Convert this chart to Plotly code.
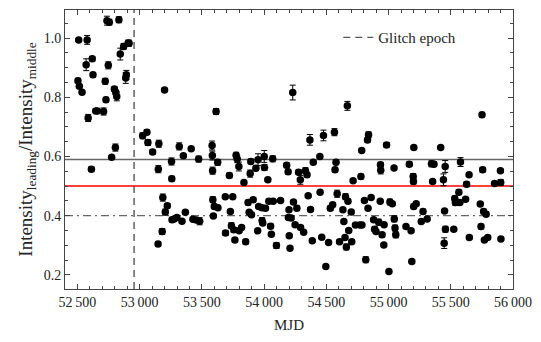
import plotly.graph_objects as go

# ---------------- data ----------------
mjd = [52504, 52510, 52515, 52537, 52570, 52578, 52586, 52612, 52619, 52625,
       52647, 52660, 52710, 52723, 52729, 52737, 52748, 52756, 52775, 52797,
       52805, 52808, 52816, 52833, 52844, 52871, 52888, 52893, 52907, 52915,
       53024, 53058, 53066, 53104, 53148, 53150, 53154, 53181, 53186, 53200,
       53206, 53222, 53256, 53258, 53260, 53277, 53299, 53318, 53340, 53351,
       53367, 53414, 53428, 53455, 53474, 53482, 53582, 53584, 53586, 53588,
       53592, 53600, 53614, 53627, 53629, 53688, 53690, 53721, 53729, 53737,
       53748, 53756, 53765, 53775, 53784, 53797, 53799, 53819, 53838, 53852,
       53871, 53880, 53888, 53893, 53899, 53912, 53934, 53948, 53951, 53956,
       53982, 53984, 53989, 54001, 54003, 54011, 54030, 54038, 54052, 54058,
       54069, 54073, 54099, 54132, 54181, 54193, 54195, 54200, 54202, 54208,
       54217, 54230, 54236, 54249, 54263, 54277, 54291, 54293, 54318, 54332,
       54345, 54354, 54368, 54373, 54387, 54395, 54448, 54450, 54463, 54477,
       54496, 54518, 54532, 54551, 54565, 54570, 54578, 54587, 54606, 54633,
       54641, 54650, 54654, 54661, 54669, 54674, 54680, 54700, 54704, 54715,
       54734, 54770, 54778, 54784, 54786, 54806, 54817, 54831, 54835, 54839,
       54860, 54880, 54888, 54899, 54921, 54933, 54935, 54937, 54948, 54962,
       54964, 54984, 55003, 55011, 55030, 55044, 55046, 55052, 55058, 55140,
       55167, 55181, 55187, 55198, 55200, 55202, 55203, 55222, 55263, 55277,
       55310, 55345, 55354, 55365, 55419, 55441, 55447, 55450, 55455, 55457,
       55524, 55532, 55537, 55565, 55573, 55578, 55619, 55627, 55647, 55649,
       55737, 55743, 55751, 55756, 55764, 55770, 55784, 55797, 55852, 55899,
       55901, 55903]

ratio = [0.856, 0.994, 0.837, 0.817, 0.910, 0.994, 0.730, 0.557, 0.930, 0.876,
         0.754, 0.754, 0.752, 0.854, 0.792, 1.059, 0.908, 1.054, 0.597, 0.828,
         0.630, 0.816, 0.803, 1.062, 0.946, 0.972, 0.865, 0.876, 0.983, 0.983,
         0.670, 0.682, 0.647, 0.615, 0.304, 0.557, 0.643, 0.346, 0.461, 0.825,
         0.412, 0.433, 0.583, 0.525, 0.386, 0.389, 0.394, 0.634, 0.381, 0.602,
         0.411, 0.626, 0.388, 0.385, 0.591, 0.381, 0.637, 0.603, 0.552, 0.454,
         0.399, 0.431, 0.752, 0.580, 0.427, 0.464, 0.341, 0.536, 0.414, 0.366,
         0.464, 0.352, 0.318, 0.604, 0.591, 0.566, 0.349, 0.360, 0.512, 0.312,
         0.444, 0.411, 0.542, 0.583, 0.403, 0.454, 0.560, 0.349, 0.589, 0.431,
         0.427, 0.383, 0.375, 0.600, 0.563, 0.425, 0.521, 0.449, 0.364, 0.337,
         0.592, 0.449, 0.299, 0.451, 0.570, 0.548, 0.394, 0.420, 0.332, 0.290,
         0.392, 0.816, 0.446, 0.369, 0.425, 0.547, 0.521, 0.360, 0.344, 0.552,
         0.538, 0.467, 0.656, 0.421, 0.315, 0.580, 0.600, 0.479, 0.327, 0.671,
         0.228, 0.309, 0.425, 0.437, 0.682, 0.555, 0.580, 0.474, 0.312, 0.420,
         0.380, 0.326, 0.464, 0.294, 0.771, 0.449, 0.350, 0.412, 0.312, 0.518,
         0.368, 0.368, 0.532, 0.620, 0.368, 0.451, 0.251, 0.656, 0.425, 0.673,
         0.461, 0.386, 0.354, 0.346, 0.378, 0.449, 0.572, 0.553, 0.335, 0.301,
         0.369, 0.639, 0.211, 0.446, 0.440, 0.561, 0.389, 0.358, 0.335, 0.363,
         0.574, 0.349, 0.245, 0.532, 0.515, 0.431, 0.630, 0.440, 0.380, 0.414,
         0.389, 0.575, 0.515, 0.574, 0.630, 0.521, 0.307, 0.416, 0.566, 0.354,
         0.354, 0.458, 0.444, 0.479, 0.444, 0.581, 0.455, 0.506, 0.538, 0.326,
         0.439, 0.363, 0.741, 0.555, 0.414, 0.318, 0.405, 0.326, 0.509, 0.552,
         0.512, 0.321]

err = [0.008, 0.005, 0.006, 0.006, 0.020, 0.015, 0.012, 0.008, 0.008, 0.008,
       0.006, 0.006, 0.012, 0.010, 0.008, 0.015, 0.012, 0.010, 0.005, 0.008,
       0.012, 0.008, 0.015, 0.010, 0.020, 0.010, 0.018, 0.015, 0.010, 0.010,
       0.010, 0.008, 0.010, 0.008, 0.008, 0.012, 0.012, 0.010, 0.012, 0.006,
       0.010, 0.008, 0.012, 0.008, 0.008, 0.006, 0.006, 0.012, 0.005, 0.005,
       0.005, 0.004, 0.006, 0.008, 0.010, 0.012, 0.015, 0.015, 0.012, 0.010,
       0.005, 0.008, 0.010, 0.010, 0.006, 0.005, 0.008, 0.008, 0.005, 0.010,
       0.005, 0.008, 0.006, 0.010, 0.012, 0.015, 0.006, 0.006, 0.006, 0.008,
       0.008, 0.006, 0.012, 0.008, 0.006, 0.005, 0.008, 0.005, 0.020, 0.006,
       0.006, 0.010, 0.006, 0.020, 0.010, 0.005, 0.006, 0.008, 0.008, 0.006,
       0.010, 0.005, 0.010, 0.005, 0.008, 0.008, 0.006, 0.006, 0.005, 0.005,
       0.006, 0.025, 0.006, 0.005, 0.008, 0.008, 0.015, 0.005, 0.005, 0.010,
       0.008, 0.005, 0.018, 0.006, 0.005, 0.005, 0.005, 0.005, 0.005, 0.018,
       0.006, 0.005, 0.008, 0.006, 0.012, 0.008, 0.008, 0.012, 0.006, 0.006,
       0.005, 0.005, 0.010, 0.010, 0.015, 0.008, 0.006, 0.005, 0.006, 0.005,
       0.005, 0.005, 0.008, 0.006, 0.005, 0.005, 0.010, 0.008, 0.005, 0.010,
       0.005, 0.005, 0.008, 0.006, 0.010, 0.005, 0.008, 0.012, 0.008, 0.005,
       0.005, 0.008, 0.005, 0.010, 0.006, 0.005, 0.010, 0.010, 0.010, 0.005,
       0.008, 0.005, 0.005, 0.010, 0.008, 0.008, 0.005, 0.006, 0.005, 0.008,
       0.005, 0.010, 0.005, 0.008, 0.005, 0.020, 0.018, 0.005, 0.020, 0.010,
       0.006, 0.008, 0.010, 0.008, 0.006, 0.015, 0.005, 0.008, 0.005, 0.005,
       0.006, 0.008, 0.008, 0.008, 0.008, 0.005, 0.008, 0.005, 0.005, 0.005,
       0.010, 0.005]

glitch_epoch = 52955
mean_level = 0.59
middle_level = 0.50
lower_level = 0.40

x_range = [52400, 56000]
y_range = [0.152, 1.095]

x_tickvals = [52500, 53000, 53500, 54000, 54500, 55000, 55500, 56000]
x_ticktext = ["52\u2009500", "53\u2009000", "53\u2009500", "54\u2009000",
              "54\u2009500", "55\u2009000", "55\u2009500", "56\u2009000"]
y_tickvals = [0.2, 0.4, 0.6, 0.8, 1.0]
y_ticktext = ["0.2", "0.4", "0.6", "0.8", "1.0"]

FONT = "Liberation Serif"
AXC = "#444444"
TXC = "#222222"

fig = go.Figure()

# glitch epoch vertical line (legend entry)
fig.add_trace(go.Scatter(
    x=[glitch_epoch, glitch_epoch], y=y_range, mode="lines",
    line=dict(color="#555555", width=1.4, dash="7px,5px"),
    name="Glitch epoch", showlegend=True, hoverinfo="skip"))

# data points
fig.add_trace(go.Scatter(
    x=mjd, y=ratio, mode="markers",
    marker=dict(color="black", size=7.5),
    error_y=dict(type="data", array=err, visible=True,
                 color="black", thickness=1, width=3),
    showlegend=False))

# horizontal reference lines
fig.add_shape(type="line", xref="paper", yref="y", x0=0, x1=1,
              y0=mean_level, y1=mean_level, layer="below",
              line=dict(color="#666666", width=1.5))
fig.add_shape(type="line", xref="paper", yref="y", x0=0, x1=1,
              y0=middle_level, y1=middle_level, layer="below",
              line=dict(color="#ff0000", width=1.5))
fig.add_shape(type="line", xref="paper", yref="y", x0=0, x1=1,
              y0=lower_level, y1=lower_level, layer="below",
              line=dict(color="#666666", width=1.3, dash="8px,4px,2px,4px"))

fig.update_layout(
    width=541, height=342,
    margin=dict(l=65, r=22, t=9, b=53),
    paper_bgcolor="white", plot_bgcolor="white",
    font=dict(family=FONT, size=14, color=TXC),
    legend=dict(x=0.61, y=0.96, xanchor="left", yanchor="top",
                bgcolor="rgba(0,0,0,0)", borderwidth=0,
                font=dict(family=FONT, size=15, color=TXC)),
    xaxis=dict(range=x_range, showgrid=False, zeroline=False,
               showline=True, linecolor=AXC, linewidth=1, mirror="allticks",
               ticks="inside", ticklen=5, tickcolor=AXC, tickwidth=1,
               tickvals=x_tickvals, ticktext=x_ticktext,
               tickfont=dict(family=FONT, size=14, color=TXC),
               minor=dict(dtick=100, ticks="inside", ticklen=3, tickcolor=AXC),
               title=dict(text="MJD", standoff=10,
                          font=dict(family=FONT, size=15, color=TXC))),
    yaxis=dict(range=y_range, showgrid=False, zeroline=False,
               showline=True, linecolor=AXC, linewidth=1, mirror="allticks",
               ticks="inside", ticklen=5, tickcolor=AXC, tickwidth=1,
               tickvals=y_tickvals, ticktext=y_ticktext,
               tickfont=dict(family=FONT, size=14, color=TXC),
               minor=dict(dtick=0.05, tick0=0, ticks="inside", ticklen=3, tickcolor=AXC),
               title=dict(text="Intensity<sub>leading</sub>/Intensity<sub>middle</sub>",
                          standoff=6,
                          font=dict(family=FONT, size=19, color=TXC))),
)

fig.write_html("out.html", config={"displayModeBar": False},
               post_script="document.body.style.margin='0px';document.body.style.padding='0px';")
